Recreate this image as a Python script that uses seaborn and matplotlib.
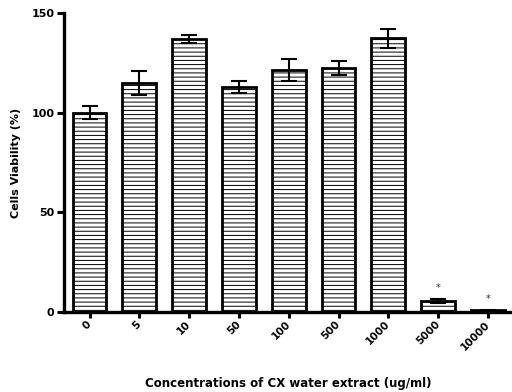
import matplotlib
matplotlib.use("Agg")
import matplotlib.pyplot as plt
import seaborn as sns
import pandas as pd
import numpy as np

categories = ["0", "5", "10", "50", "100", "500", "1000", "5000", "10000"]
viability = [100, 115, 137, 113, 121.5, 122.5, 137.5, 5.3, 0.8]
sd = [3.3, 6.0, 2.0, 3.2, 5.5, 3.5, 4.7, 1.1, 0.3]
significant = [False, False, False, False, False, False, False, True, True]

sns.set_theme(style="ticks")
plt.rcParams["font.family"] = ["DejaVu Sans"]
plt.rcParams["hatch.linewidth"] = 0.7
plt.rcParams["hatch.color"] = "black"
plt.rcParams["text.color"] = "black"
plt.rcParams["axes.labelcolor"] = "black"
plt.rcParams["xtick.labelcolor"] = "black"
plt.rcParams["ytick.labelcolor"] = "black"

df = pd.DataFrame({"conc": categories, "val": viability})

fig = plt.figure(figsize=(5.12, 3.92), dpi=100)
ax = fig.add_axes([0.125, 1 - 311.7 / 392, 1.0 - 0.125, (311.7 - 13.3) / 392])

sns.barplot(data=df, x="conc", y="val", order=categories, errorbar=None,
            width=0.68, color="white", edgecolor="black", linewidth=2.0,
            saturation=1, ax=ax)
for p in ax.patches:
    p.set_hatch("----")
    p.set_facecolor("white")
    p.set_edgecolor("black")

xpos = np.arange(len(categories))
ax.errorbar(xpos, viability, yerr=sd, fmt="none", ecolor="black",
            elinewidth=1.5, capsize=5.5, capthick=1.5, zorder=5)

for x, v, e, s in zip(xpos, viability, sd, significant):
    if s:
        ax.annotate("*", xy=(x, v + e), xytext=(0, 4), textcoords="offset points",
                    ha="center", va="bottom", fontsize=7, color="#333333")

ax.set_xlim(-0.512, 8.482)
ax.set_ylim(0, 150)
ax.set_yticks([0, 50, 100, 150])
ax.set_yticklabels(["0", "50", "100", "150"], fontsize=8, fontweight="bold")
ax.set_xticks(xpos)
ax.set_xticklabels(categories, fontsize=7.5, fontweight="bold", rotation=45,
                   ha="right", va="center", rotation_mode="anchor")
for lab in ax.get_xticklabels():
    lab.set_transform(lab.get_transform() + matplotlib.transforms.ScaledTranslation(0.02, -0.05, fig.dpi_scale_trans))

sns.despine(ax=ax)
for side in ["left", "bottom"]:
    ax.spines[side].set_linewidth(2.4)
    ax.spines[side].set_color("black")
ax.tick_params(axis="y", length=5, width=2.2, color="black", pad=2)
ax.tick_params(axis="x", length=4, width=2.2, color="black", pad=4)

ax.set_xlabel("Concentrations of CX water extract (ug/ml)", fontsize=8.5,
              fontweight="bold")
ax.xaxis.set_label_coords(0.5, -0.239)
ax.xaxis.label.set_va("center")
ax.set_ylabel("Cells Viability (%)", fontsize=8, fontweight="bold")
ax.yaxis.set_label_coords(-0.107, 0.5)
ax.yaxis.label.set_va("center")

fig.savefig("out.png", dpi=100)
